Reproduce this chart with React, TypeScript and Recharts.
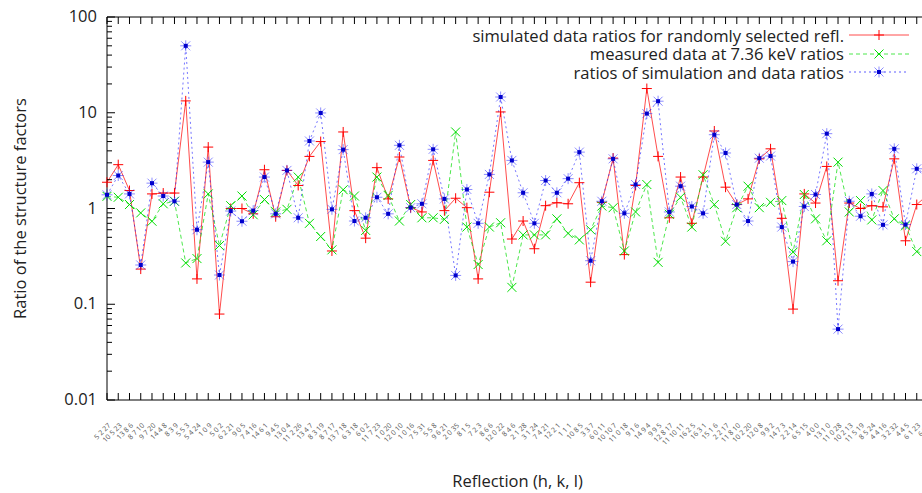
import { LineChart, Line, XAxis, YAxis, Legend } from 'recharts';

// reflection labels (h k l), one per x position
const reflections = [
  '5 2 27', '10 5 23', '13 8 6', '8 7 10', '9 7 20', '14 4 8', '8 3 9', '5 5 3', '5 4 24', '1 0 9',
  '5 0 2', '6 2 21', '9 0 5', '7 4 16', '14 6 1', '9 4 5', '13 0 4', '11 2 26', '13 4 7', '8 3 19',
  '8 7 17', '13 7 18', '6 3 18', '6 0 2', '11 7 23', '1 0 20', '12 0 10', '1 0 16', '7 5 31', '5 5 8',
  '9 6 21', '2 0 35', '8 1 5', '7 2 3', '8 6 6', '12 0 22', '8 4 6', '2 1 28', '3 1 24', '7 4 21',
  '12 2 1', '1 1 1', '10 8 5', '3 3 7', '6 0 11', '10 10 7', '11 0 18', '9 1 6', '14 9 4', '9 9 5',
  '12 8 17', '11 10 11', '16 2 5', '16 3 1', '15 1 6', '2 2 17', '11 8 10', '10 2 20', '12 0 8', '9 9 2',
  '14 7 3', '2 2 14', '6 5 15', '4 0 0', '13 1 0', '11 0 28', '10 2 13', '11 5 19', '8 5 24', '4 4 16',
  '3 2 32', '4 4 5', '6 1 23', '6 2 5',
];

const simulated = [
  1.88, 2.87, 1.54, 0.233, 1.42, 1.45, 1.45, 13.3, 0.184, 4.38,
  0.079, 1.0, 1.0, 0.88, 2.54, 0.82, 2.5, 1.74, 3.5, 5.0,
  0.36, 6.3, 0.95, 0.49, 2.67, 1.26, 3.45, 1.02, 0.92, 3.18,
  0.95, 1.28, 1.02, 0.184, 1.48, 10.2, 0.48, 0.74, 0.38, 1.07,
  1.15, 1.12, 1.86, 0.17, 1.16, 3.36, 0.33, 1.74, 17.9, 3.5,
  0.8, 2.13, 0.7, 2.13, 6.45, 1.67, 1.1, 1.26, 3.3, 4.2,
  0.79, 0.089, 1.42, 1.14, 2.75, 0.176, 1.14, 1.0, 1.07, 1.04,
  3.3, 0.46, 1.1, 1.4,
];

const measured = [
  1.34, 1.31, 1.1, 0.9, 0.736, 1.12, 1.19, 0.27, 0.3, 1.42,
  0.41, 1.07, 1.35, 0.86, 1.24, 0.92, 0.98, 2.13, 0.7, 0.51,
  0.37, 1.57, 1.35, 0.59, 2.13, 1.37, 0.74, 1.1, 0.8, 0.8,
  0.77, 6.3, 0.64, 0.26, 0.64, 0.71, 0.15, 0.53, 0.53, 0.53,
  0.78, 0.55, 0.47, 0.6, 1.06, 1.02, 0.36, 0.92, 1.78, 0.274,
  0.87, 1.31, 0.64, 2.25, 1.1, 0.455, 1.02, 1.71, 1.02, 1.16,
  1.21, 0.35, 1.4, 0.78, 0.46, 3.05, 0.92, 1.21, 0.76, 1.54,
  0.78, 0.66, 0.355, 0.33,
];

const ratioOfRatios = [
  1.39, 2.21, 1.42, 0.257, 1.84, 1.35, 1.19, 50, 0.6, 3.05,
  0.202, 0.94, 0.736, 0.95, 2.13, 0.88, 2.5, 0.8, 5.07, 9.95,
  0.98, 4.12, 0.74, 0.8, 1.31, 0.88, 4.57, 1.02, 1.12, 4.15,
  1.26, 0.2, 1.58, 0.7, 2.27, 14.6, 3.18, 1.46, 0.7, 1.96,
  1.46, 2.05, 3.88, 0.285, 1.19, 3.3, 0.89, 1.78, 9.8, 13.2,
  0.92, 1.71, 1.05, 0.89, 5.9, 3.8, 1.1, 0.74, 3.35, 3.53,
  0.64, 0.279, 1.05, 1.4, 6.05, 0.055, 1.19, 0.83, 1.42, 0.675,
  4.2, 0.68, 2.6, 2.2,
];

const yMajor = [0.01, 0.1, 1, 10, 100];
const yTicks = [
  0.01, 0.02, 0.03, 0.04, 0.05, 0.06, 0.07, 0.08, 0.09,
  0.1, 0.2, 0.3, 0.4, 0.5, 0.6, 0.7, 0.8, 0.9,
  1, 2, 3, 4, 5, 6, 7, 8, 9,
  10, 20, 30, 40, 50, 60, 70, 80, 90, 100,
];

const data = reflections.map((label, i) => ({
  idx: i,
  label,
  sim: simulated[i],
  meas: measured[i],
  ratio: ratioOfRatios[i],
}));
const xTicks = reflections.map((_, i) => i);

const FONT = '"Open Sans", sans-serif';
const RED = '#ff0000';
const GREEN = '#00dd00';
const BLUE = '#1a1aff';

const PlusMark = ({ cx, cy }: { cx: number; cy: number }) => (
  <g stroke={RED} strokeWidth={1}>
    <line x1={cx - 5} y1={cy} x2={cx + 5} y2={cy} />
    <line x1={cx} y1={cy - 5} x2={cx} y2={cy + 5} />
  </g>
);

const CrossMark = ({ cx, cy }: { cx: number; cy: number }) => (
  <g stroke={GREEN} strokeWidth={1}>
    <line x1={cx - 4.5} y1={cy - 4.5} x2={cx + 4.5} y2={cy + 4.5} />
    <line x1={cx - 4.5} y1={cy + 4.5} x2={cx + 4.5} y2={cy - 4.5} />
  </g>
);

const StarMark = ({ cx, cy }: { cx: number; cy: number }) => (
  <g>
    <g stroke={BLUE} strokeWidth={1} strokeOpacity={0.5}>
      <line x1={cx - 5.5} y1={cy} x2={cx + 5.5} y2={cy} />
      <line x1={cx} y1={cy - 5.5} x2={cx} y2={cy + 5.5} />
      <line x1={cx - 4.5} y1={cy - 4.5} x2={cx + 4.5} y2={cy + 4.5} />
      <line x1={cx - 4.5} y1={cy + 4.5} x2={cx + 4.5} y2={cy - 4.5} />
    </g>
    <rect x={cx - 2} y={cy - 2} width={4} height={4} fill="#0000cc" />
  </g>
);

const dotFn = (Mark: any) => (p: any) => {
  if (p.cx == null || p.cy == null) return <g key={p.index} />;
  return <Mark key={p.index} cx={p.cx} cy={p.cy} />;
};

// left axis: labels on decades, short inward ticks on the minors
const YTick = (p: any) => {
  const v = p.payload.value;
  const major = yMajor.some((m) => Math.abs(m - v) < 1e-9);
  return (
    <g>
      <line x1={p.x} x2={p.x + (major ? 8 : 5)} y1={p.y} y2={p.y} stroke="#000" />
      {major && (
        <text x={p.x - 10} y={p.y} dy={5} textAnchor="end" fontSize={16.5} fontFamily={FONT} fill="#222">
          {v}
        </text>
      )}
    </g>
  );
};

const XTick = (p: any) => {
  const i = p.payload.value;
  const tx = p.x + 4;
  const ty = p.y + 26;
  return (
    <g>
      <line x1={p.x} x2={p.x} y1={p.y} y2={p.y - 7} stroke="#000" />
      <text
        x={tx}
        y={ty}
        textAnchor="end"
        fontSize={7}
        fontFamily={FONT}
        fill="#555"
        transform={`rotate(-45, ${tx}, ${ty})`}
      >
        {reflections[i]}
      </text>
    </g>
  );
};

const TopTick = (p: any) => <line x1={p.x} x2={p.x} y1={p.y} y2={p.y + 7} stroke="#000" />;

const legendRows = [
  { name: 'simulated data ratios for randomly selected refl.', color: RED, dash: undefined, Mark: PlusMark },
  { name: 'measured data at 7.36 keV ratios', color: GREEN, dash: '4 3', Mark: CrossMark },
  { name: 'ratios of simulation and data ratios', color: BLUE, dash: '2 3', Mark: StarMark },
];

const LegendBox = () => (
  <div style={{ fontFamily: FONT, fontSize: 16.6, lineHeight: '17px', color: '#222' }}>
    {legendRows.map((r) => (
      <div key={r.name} style={{ display: 'flex', justifyContent: 'flex-end', alignItems: 'center', height: 18.5 }}>
        <span style={{ whiteSpace: 'nowrap', lineHeight: '17px' }}>{r.name}</span>
        <svg width={62} height={14} style={{ marginLeft: 4 }}>
          <line x1={1} x2={61} y1={7} y2={7} stroke={r.color} strokeDasharray={r.dash} strokeOpacity={0.7} />
          <r.Mark cx={31} cy={7} />
        </svg>
      </div>
    ))}
  </div>
);

export default function App() {
  return (
    <div style={{ position: 'absolute', left: 0, top: 0, width: 922, height: 493, overflow: 'hidden', background: '#fff' }}>
      <LineChart width={940} height={493} data={data} margin={{ top: 0, right: 12, bottom: 0, left: 0 }}>
        <XAxis
          xAxisId="bottom"
          dataKey="idx"
          type="number"
          domain={[0, 73]}
          ticks={xTicks}
          interval={0}
          height={93}
          tickSize={0}
          tickMargin={0}
          tickLine={false}
          axisLine={{ stroke: '#000' }}
          tick={XTick}
          label={{ value: 'Reflection (h, k, l)', position: 'insideBottom', offset: 6, fontSize: 16.5, fontFamily: FONT, fill: '#222' }}
        />
        <XAxis
          xAxisId="top"
          orientation="top"
          dataKey="idx"
          type="number"
          domain={[0, 73]}
          ticks={xTicks}
          interval={0}
          height={17}
          tickSize={0}
          tickMargin={0}
          tickLine={false}
          axisLine={{ stroke: '#000' }}
          tick={TopTick}
        />
        <YAxis
          type="number"
          scale="log"
          domain={[0.01, 100]}
          allowDataOverflow
          ticks={yTicks}
          interval={0}
          width={107}
          tickSize={0}
          tickMargin={0}
          tickLine={false}
          axisLine={{ stroke: '#000' }}
          tick={YTick}
          label={{
            value: 'Ratio of the structure factors',
            angle: -90,
            position: 'insideLeft',
            offset: 20,
            textAnchor: 'middle',
            fontSize: 16.5,
            fontFamily: FONT,
            fill: '#222',
          }}
        />
        <Legend
          layout="vertical"
          verticalAlign="middle"
          align="center"
          content={LegendBox}
          wrapperStyle={{ top: 26, left: 400, width: 510 }}
        />
        <Line
          xAxisId="bottom"
          dataKey="sim"
          stroke={RED}
          strokeOpacity={0.7}
          strokeWidth={1}
          dot={dotFn(PlusMark)}
          activeDot={false}
          isAnimationActive={false}
        />
        <Line
          xAxisId="bottom"
          dataKey="meas"
          stroke={GREEN}
          strokeOpacity={0.7}
          strokeWidth={1}
          strokeDasharray="4 3"
          dot={dotFn(CrossMark)}
          activeDot={false}
          isAnimationActive={false}
        />
        <Line
          xAxisId="bottom"
          dataKey="ratio"
          stroke={BLUE}
          strokeOpacity={0.6}
          strokeWidth={1}
          strokeDasharray="2 3"
          dot={dotFn(StarMark)}
          activeDot={false}
          isAnimationActive={false}
        />
      </LineChart>
    </div>
  );
}
